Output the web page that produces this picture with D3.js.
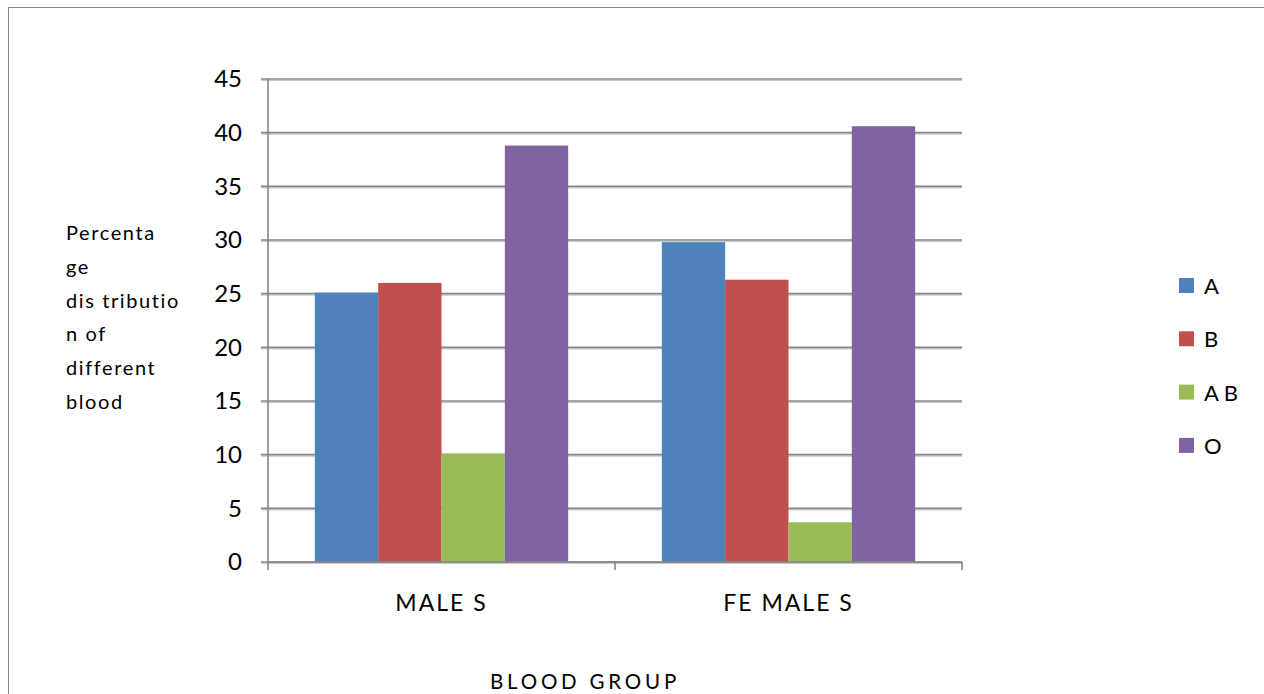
<!DOCTYPE html>
<html>
<head>
<meta charset="utf-8">
<script src="https://cdn.jsdelivr.net/npm/d3@7/dist/d3.min.js"></script>
<style>
  html, body { margin: 0; padding: 0; background: #fff; }
  svg { display: block; }
  text { font-family: Lato, "Open Sans", sans-serif; fill: #000; }
</style>
</head>
<body>
<svg id="chart" width="1264" height="694"></svg>
<script>
// Blood group distribution by sex (percent)
const categories = ["MALE S", "FE MALE S"];
const seriesNames = ["A", "B", "A B", "O"];
const seriesColors = ["#4f81bd", "#c0504d", "#9bbb59", "#8064a2"];
const valuesA  = [25.1, 29.8];
const valuesB  = [26.0, 26.3];
const valuesAB = [10.1, 3.7];
const valuesO  = [38.8, 40.6];
const yTicks = [0, 5, 10, 15, 20, 25, 30, 35, 40, 45];
const yTitleLines = ["Percenta", "ge", "dis tributio", "n of", "different", "blood"];
const xTitle = "BLOOD GROUP";

const series = [valuesA, valuesB, valuesAB, valuesO];

const svg = d3.select("#chart");

// outer chart frame
svg.append("rect")
  .attr("x", 8.5).attr("y", 7.5)
  .attr("width", 1270).attr("height", 700)
  .attr("fill", "none").attr("stroke", "#878787").attr("stroke-width", 1);

const plot = { left: 268, right: 962, top: 79, bottom: 562 };

const y = d3.scaleLinear().domain([0, 45]).range([plot.bottom, plot.top]);
const x0 = d3.scaleBand().domain(categories).range([plot.left, plot.right]).paddingInner(0.27).paddingOuter(0.135);
const x1 = d3.scaleBand().domain(seriesNames).range([0, x0.bandwidth()]);

// horizontal gridlines with soft under-shadow
const grid = svg.append("g");
yTicks.forEach(t => {
  grid.append("line")
    .attr("x1", plot.left - 7).attr("x2", plot.right)
    .attr("y1", y(t) + 1.5).attr("y2", y(t) + 1.5)
    .attr("stroke", "#c8c8c8").attr("stroke-width", 1.2);
  grid.append("line")
    .attr("x1", plot.left - 7).attr("x2", plot.right)
    .attr("y1", y(t)).attr("y2", y(t))
    .attr("stroke", "#868686").attr("stroke-width", 1.6);
});

// bars
const groups = svg.append("g").selectAll("g")
  .data(categories)
  .join("g")
  .attr("transform", d => `translate(${x0(d)},0)`);

groups.selectAll("rect")
  .data((d, i) => seriesNames.map((s, j) => ({ s, j, v: series[j][i] })))
  .join("rect")
  .attr("x", d => x1(d.s))
  .attr("y", d => y(d.v))
  .attr("width", x1.bandwidth())
  .attr("height", d => y(0) - y(d.v))
  .attr("fill", d => seriesColors[d.j]);

// y axis
const yAxis = d3.axisLeft(y).tickValues(yTicks).tickSize(7).tickPadding(19);
const gy = svg.append("g").attr("transform", `translate(${plot.left},0)`).call(yAxis);
gy.select(".domain").attr("stroke", "#868686").attr("stroke-width", 1.6).attr("d", `M0,${plot.top}V${plot.bottom}`);
gy.selectAll(".tick line").remove();
gy.selectAll(".tick text").attr("font-size", 24).attr("font-family", "Lato, sans-serif").attr("fill", "#000");

// x axis
const xAxis = d3.axisBottom(x0).tickSize(0).tickPadding(33);
const gx = svg.append("g").attr("transform", `translate(0,${plot.bottom})`).call(xAxis);
gx.select(".domain").remove();
gx.selectAll(".tick text").attr("font-size", 23).attr("font-family", "Lato, sans-serif").attr("fill", "#000").attr("letter-spacing", 2);
// category separators
[plot.left, (plot.left + plot.right) / 2, plot.right].forEach(px => {
  svg.append("line")
    .attr("x1", px).attr("x2", px)
    .attr("y1", plot.bottom).attr("y2", plot.bottom + 8)
    .attr("stroke", "#868686").attr("stroke-width", 1.6);
});
svg.append("line")
  .attr("x1", plot.left).attr("x2", plot.right)
  .attr("y1", plot.bottom).attr("y2", plot.bottom)
  .attr("stroke", "#868686").attr("stroke-width", 1.6);

// axis titles
svg.append("text")
  .attr("x", 585).attr("y", 689)
  .attr("text-anchor", "middle")
  .attr("font-size", 20.5).attr("letter-spacing", 3.8)
  .text(xTitle);

const yTitle = svg.append("g");
yTitleLines.forEach((line, i) => {
  yTitle.append("text")
    .attr("x", 66).attr("y", 240 + i * 33.8)
    .attr("font-size", 20).attr("letter-spacing", 1.6)
    .text(line);
});

// legend
const legend = svg.append("g").attr("transform", "translate(1179,278)");
seriesNames.forEach((name, i) => {
  const g = legend.append("g").attr("transform", `translate(0,${i * 53.3})`);
  g.append("rect").attr("width", 15).attr("height", 15).attr("fill", seriesColors[i]);
  g.append("text").attr("x", 25).attr("y", 16).attr("font-size", 22).text(name);
});
</script>
</body>
</html>
